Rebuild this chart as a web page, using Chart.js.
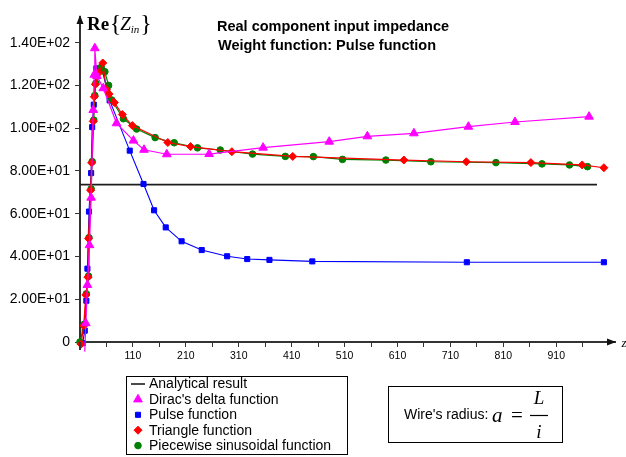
<!DOCTYPE html>
<html><head><meta charset="utf-8">
<script src="https://cdn.jsdelivr.net/npm/chart.js@4.4.0/dist/chart.umd.min.js"></script>
<style>html,body{margin:0;padding:0;background:#fff}canvas{display:block}</style>
</head><body>
<canvas id="c" width="626" height="457"></canvas>
<script>
// ---- text ----
const titleLines = ['Real component input impedance', 'Weight function: Pulse function'];
const seriesNames = ['Analytical result', "Dirac's delta function", 'Pulse function', 'Triangle function', 'Piecewise sinusoidal function'];
const formulaLabel = "Wire's radius:";

// ---- ticks ----
const xTickValues = [10, 60, 110, 160, 210, 260, 310, 360, 410, 460, 510, 560, 610, 660, 710, 760, 810, 860, 910, 960];
const xTickLabels = ['', '', '110', '', '210', '', '310', '', '410', '', '510', '', '610', '', '710', '', '810', '', '910', ''];
const yTickValues = [0, 20, 40, 60, 80, 100, 120, 140];
const yTickLabels = ['0', '2.00E+01', '4.00E+01', '6.00E+01', '8.00E+01', '1.00E+02', '1.20E+02', '1.40E+02'];

// ---- series ----
const analyticalX = [10, 987];
const analyticalY = [73.6, 73.6];

const diracX = [19, 21, 24, 28, 31, 35, 37, 38, 42, 54, 79, 111, 131, 174, 254, 356, 481, 553, 641, 744, 832, 972];
const diracY = [-4.5, 8.8, 26.7, 45.3, 67.5, 108.5, 125, 137.4, 124.4, 118.7, 102.3, 94.2, 89.9, 87.8, 87.9, 90.9, 93.7, 96.2, 97.6, 100.7, 102.9, 105.4];

const pulseX = [15, 19, 22, 24, 27, 31, 33, 36, 41, 52, 66, 104, 130, 150, 172, 202, 240, 288, 326, 368, 449, 741, 1000];
const pulseY = [-0.5, 5.3, 19.3, 34.3, 61, 79, 100.5, 111, 128, 127, 113, 89.5, 73.9, 61.6, 53.6, 47.1, 43, 40.1, 38.8, 38.4, 37.7, 37.3, 37.3];

const triangleX = [12, 17, 21, 25, 26, 30, 32, 35, 37, 39, 46, 53, 60, 65, 75, 90, 109, 176, 219, 297, 412, 622, 740, 862, 959, 1000];
const triangleY = [-1, 7.6, 22, 30.3, 48.4, 71, 83.8, 103.2, 114.7, 120.5, 126, 130.5, 118, 116, 112, 106.4, 101.2, 93.3, 91.4, 89, 86.8, 85.1, 84.3, 83.9, 82.8, 81.5];

const sinusX = [10, 18, 22, 26, 27, 31, 33, 36, 38, 40, 50, 57, 64, 70, 92, 117, 152, 188, 232, 275, 336, 398, 451, 506, 588, 673, 796, 883, 935, 969];
const sinusY = [0, 8.3, 22.5, 30.8, 48.8, 71.6, 84.4, 103.8, 115.3, 121, 128.5, 126.4, 120, 113.2, 104.4, 99.6, 95.6, 93.2, 90.8, 89.8, 87.9, 86.8, 86.7, 85.4, 85.1, 84.3, 83.9, 83.3, 82.8, 82];

const zip = (xs, ys) => xs.map((x, i) => ({x: x, y: ys[i]}));
const SANS = '"Liberation Sans", Arial, sans-serif';
const SERIF = '"Liberation Serif", "Times New Roman", serif';

const datasets = [
  {label: seriesNames[0], data: zip(analyticalX, analyticalY), borderColor: '#1e1e1e', backgroundColor: '#1e1e1e', borderWidth: 1.6, pointRadius: 0, order: 5, legendStyle: 'line'},
  {label: seriesNames[1], data: zip(diracX, diracY), borderColor: '#ff00ff', backgroundColor: '#ff00ff', borderWidth: 1.2, pointStyle: 'triangle', pointRadius: 5, pointBorderWidth: 1, order: 1},
  {label: seriesNames[2], data: zip(pulseX, pulseY), borderColor: '#0000ff', backgroundColor: '#0000ff', borderWidth: 1.1, pointStyle: 'rect', pointRadius: 3.6, pointBorderWidth: 1, order: 4},
  {label: seriesNames[3], data: zip(triangleX, triangleY), borderColor: '#ff0000', backgroundColor: '#ff0000', borderWidth: 1.2, pointStyle: 'rectRot', pointRadius: 4, pointBorderWidth: 1, order: 2},
  {label: seriesNames[4], data: zip(sinusX, sinusY), borderColor: '#008000', backgroundColor: '#008000', borderWidth: 1.2, pointStyle: 'circle', pointRadius: 3.3, pointBorderWidth: 1, order: 3}
];
datasets.forEach(d => { d.clip = false; d.tension = 0; d.fill = false; });

const decor = {
  id: 'decor',
  afterDraw(chart) {
    const ctx = chart.ctx;
    const a = chart.chartArea;
    const yz = chart.scales.y.getPixelForValue(0);
    ctx.save();
    // axis arrows
    ctx.fillStyle = '#111';
    ctx.beginPath(); ctx.moveTo(a.left, a.top - 2); ctx.lineTo(a.left - 3.5, a.top + 7); ctx.lineTo(a.left + 3.5, a.top + 7); ctx.closePath(); ctx.fill();
    ctx.beginPath(); ctx.moveTo(a.right + 1, yz); ctx.lineTo(a.right - 8, yz - 3.5); ctx.lineTo(a.right - 8, yz + 3.5); ctx.closePath(); ctx.fill();
    ctx.strokeStyle = '#333'; ctx.lineWidth = 2;
    ctx.beginPath(); ctx.moveTo(a.left, yz); ctx.lineTo(a.left, yz + 8); ctx.stroke();
    // x axis name (cut at edge)
    ctx.fillStyle = '#000';
    ctx.font = 'italic 13px ' + SERIF;
    ctx.textBaseline = 'middle'; ctx.textAlign = 'left';
    ctx.fillText('z', 621.5, yz + 2);
    // title
    ctx.font = 'bold 14.5px ' + SANS;
    ctx.fillText(titleLines[0], 217, 27);
    ctx.fillText(titleLines[1], 218, 45.5);
    // y axis name Re{Z_in}
    ctx.textBaseline = 'alphabetic';
    let x = 87;
    ctx.font = 'bold 19px ' + SERIF; ctx.fillText('Re', x, 30); x += ctx.measureText('Re').width + 0.5;
    ctx.font = '24px ' + SERIF; ctx.fillText('{', x, 31); x += ctx.measureText('{').width - 1;
    ctx.font = 'italic 19px ' + SERIF; ctx.fillText('Z', x, 30); x += ctx.measureText('Z').width;
    ctx.font = 'italic 11px ' + SERIF; ctx.fillText('in', x, 33); x += ctx.measureText('in').width + 1;
    ctx.font = '24px ' + SERIF; ctx.fillText('}', x, 31);
    // legend box
    ctx.strokeStyle = '#000'; ctx.lineWidth = 1;
    ctx.strokeRect(126.5, 376.5, 221, 78);
    ctx.font = '14px ' + SANS; ctx.textBaseline = 'middle';
    chart.data.datasets.forEach((d, i) => {
      const cy = 384 + i * 15.4;
      if (d.legendStyle === 'line') {
        ctx.strokeStyle = d.borderColor; ctx.lineWidth = 1.6;
        ctx.beginPath(); ctx.moveTo(131, cy); ctx.lineTo(145, cy); ctx.stroke();
      } else {
        ctx.fillStyle = d.backgroundColor; ctx.strokeStyle = d.borderColor; ctx.lineWidth = 1;
        Chart.helpers.drawPoint(ctx, {pointStyle: d.pointStyle, radius: d.pointRadius, rotation: 0, borderWidth: 1}, 138, cy);
      }
      ctx.fillStyle = '#000';
      ctx.fillText(d.label, 149, cy + 0.5);
    });
    // formula box
    ctx.strokeStyle = '#000'; ctx.lineWidth = 1;
    ctx.strokeRect(388.5, 386.5, 174, 56);
    ctx.fillStyle = '#000';
    ctx.font = '14px ' + SANS; ctx.textBaseline = 'middle';
    ctx.fillText(formulaLabel, 404, 415);
    ctx.font = 'italic 21px ' + SERIF; ctx.fillText('a', 492, 416);
    ctx.font = '21px ' + SERIF; ctx.fillText('=', 511, 416);
    ctx.textAlign = 'center';
    ctx.font = 'italic 19px ' + SERIF; ctx.fillText('L', 539, 399);
    ctx.fillText('i', 539, 433);
    ctx.lineWidth = 1.2; ctx.beginPath(); ctx.moveTo(530, 415.5); ctx.lineTo(548, 415.5); ctx.stroke();
    ctx.restore();
  }
};

new Chart(document.getElementById('c'), {
  type: 'line',
  data: {datasets: datasets},
  plugins: [decor],
  options: {
    responsive: false,
    animation: false,
    events: [],
    layout: {padding: {left: 0, right: 11, top: 17, bottom: 0}},
    plugins: {legend: {display: false}, tooltip: {enabled: false}, title: {display: false}},
    scales: {
      x: {
        type: 'linear', min: 10, max: 1021,
        afterBuildTicks: s => { s.ticks = xTickValues.map(v => ({value: v})); },
        afterFit: s => { s.height = 115; },
        ticks: {autoSkip: false, maxRotation: 0, padding: 3, color: '#000', font: {family: SANS, size: 10.5},
                callback: v => xTickLabels[xTickValues.indexOf(v)]},
        grid: {drawOnChartArea: false, drawTicks: true, tickLength: 5, color: '#333', lineWidth: 1},
        border: {color: '#333', width: 2}
      },
      y: {
        type: 'linear', min: 0, max: 152,
        afterBuildTicks: s => { s.ticks = yTickValues.map(v => ({value: v})); },
        afterFit: s => { s.width = 80; },
        ticks: {autoSkip: false, padding: 5, color: '#000', font: {family: SANS, size: 14},
                callback: v => yTickLabels[yTickValues.indexOf(v)]},
        grid: {drawOnChartArea: false, drawTicks: true, tickLength: 5, color: '#333', lineWidth: 1},
        border: {color: '#333', width: 2}
      }
    }
  }
});
</script>
</body></html>
